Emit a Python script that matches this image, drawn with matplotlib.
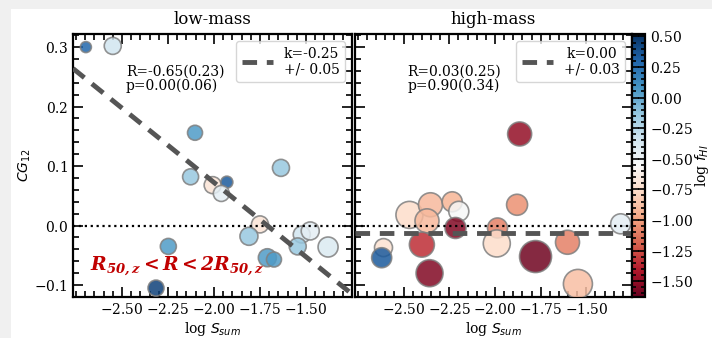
import numpy as np
import matplotlib
matplotlib.use('Agg')
import matplotlib.pyplot as plt
from matplotlib.ticker import AutoMinorLocator
from matplotlib.patches import Rectangle
from matplotlib.cm import ScalarMappable
from matplotlib.colors import Normalize

plt.rcParams['font.family'] = 'DejaVu Serif'
plt.rcParams['axes.formatter.use_mathtext'] = True
plt.rcParams['mathtext.fontset'] = 'dejavusans'

# low-mass sample
x_low = [-2.696, -2.55, -2.103, -1.636, -2.127, -2.007, -1.93, -1.96, -1.75,
         -1.81, -1.523, -1.477, -1.545, -1.38, -1.71, -1.674, -2.248, -2.315]
y_low = [0.300, 0.302, 0.156, 0.097, 0.082, 0.068, 0.073, 0.054, 0.002,
         -0.018, -0.015, -0.009, -0.035, -0.036, -0.054, -0.057, -0.035, -0.105]
c_low = [0.30, -0.35, 0.05, -0.15, -0.15, -0.70, 0.35, -0.45, -0.70,
         -0.15, -0.35, -0.45, -0.15, -0.40, 0.05, 0.05, 0.05, 0.45]
r_low = [5.5, 8.5, 7.5, 8.5, 8, 8.5, 6, 8, 8.5, 9, 8.5, 9, 8.5, 10, 9, 7.5, 8, 8]

# high-mass sample
x_high = [-2.468, -2.353, -2.372, -2.234, -2.198, -2.216, -2.61, -2.62, -2.40,
          -2.358, -1.986, -1.99, -1.879, -1.778, -1.603, -1.546, -1.312, -1.865]
y_high = [0.018, 0.035, 0.008, 0.040, 0.024, -0.004, -0.037, -0.054, -0.032,
          -0.080, -0.004, -0.030, 0.035, -0.052, -0.028, -0.098, 0.003, 0.154]
c_high = [-0.75, -0.90, -0.90, -0.92, -0.55, -1.55, -0.72, 0.35, -1.35,
          -1.55, -1.10, -0.75, -1.05, -1.60, -1.10, -0.88, -0.45, -1.50]
r_high = [13.5, 12, 12, 10, 10, 10.5, 9, 10, 12.5, 13.5, 10, 13.5, 10.5, 16, 12, 14.5, 10, 12]

# fits: slope, error, intercept; stats text
fit_low = (-0.25, 0.05, -0.4275)
fit_high = (0.00, 0.03, -0.012)
stats_low = 'R=-0.65(0.23)\np=0.00(0.06)'
stats_high = 'R=0.03(0.25)\np=0.90(0.34)'

vmin, vmax = -1.63, 0.52
xlim = (-2.766, -1.25)
ylim = (-0.12, 0.322)

fig = plt.figure(figsize=(7.12, 3.38), dpi=100)
fig.patch.set_facecolor('#f0f0f0')
fig.patches.append(Rectangle((11/712, 0), 1, 1 - 9/338, transform=fig.transFigure,
                             facecolor='white', edgecolor='none', zorder=-10))

ax1 = fig.add_axes([73/712, 41/338, 279/712, 263/338])
ax2 = fig.add_axes([355/712, 41/338, 277/712, 263/338])
cax = fig.add_axes([632/712, 41/338, 13/712, 263/338])


def r2s(r):
    d = 2 * np.array(r) * 72 / 100.
    return d ** 2


def panel(ax, x, y, c, r, fit, stats, title):
    sc = ax.scatter(x, y, c=c, s=r2s(r), cmap='RdBu', vmin=vmin, vmax=vmax,
                    alpha=0.85, edgecolors='gray', linewidths=1.2, zorder=3)
    ax.axhline(0, color='k', ls=':', lw=1.6, zorder=4)
    xx = np.array(xlim)
    k, err, b = fit
    ax.plot(xx, k * xx + b, ls='--', color='#555555', lw=3.5, dashes=(3, 2), zorder=5,
            label='k=%.2f\n+/- %.2f' % (k, err))
    leg = ax.legend(loc='upper right', fontsize=10, handlelength=2.2, borderpad=0.4)
    for t in leg.get_texts():
        t.set_multialignment('center')
    ax.text(0.19, 0.885, stats, transform=ax.transAxes, fontsize=10, va='top', linespacing=1.0)
    ax.set_xlim(xlim)
    ax.set_ylim(ylim)
    ax.set_xticks([-2.5, -2.25, -2.0, -1.75, -1.5])
    ax.set_yticks([-0.1, 0.0, 0.1, 0.2, 0.3])
    ax.xaxis.set_minor_locator(AutoMinorLocator(5))
    ax.yaxis.set_minor_locator(AutoMinorLocator(5))
    ax.tick_params(which='both', direction='in', top=True, right=True, labelsize=10, width=1.2)
    ax.tick_params(which='major', length=7)
    ax.tick_params(which='minor', length=4)
    for s in ax.spines.values():
        s.set_linewidth(1.6)
    ax.set_title(title, fontsize=12, pad=7)
    ax.set_xlabel(r'log $S_{sum}$', fontsize=10, labelpad=2)
    return sc


panel(ax1, x_low, y_low, c_low, r_low, fit_low, stats_low, 'low-mass')
panel(ax2, x_high, y_high, c_high, r_high, fit_high, stats_high, 'high-mass')
ax2.set_yticklabels([])
ax1.set_ylabel(r'$CG_{12}$', fontsize=10, labelpad=1)

ax1.text(-2.675, -0.067, r'$\mathbfit{R_{50,z} < R < 2R_{50,z}}$', color='#c00000',
         fontsize=13.5, va='center', zorder=6, math_fontfamily='dejavuserif')

sm = ScalarMappable(norm=Normalize(vmin, vmax), cmap='RdBu')
cb = fig.colorbar(sm, cax=cax)
cb.set_ticks([0.5, 0.25, 0.0, -0.25, -0.5, -0.75, -1.0, -1.25, -1.5])
cb.ax.yaxis.set_minor_locator(AutoMinorLocator(5))
cb.ax.tick_params(which='both', direction='in', left=True, right=True, labelsize=10, width=1.2)
cb.ax.tick_params(which='major', length=5)
cb.ax.tick_params(which='minor', length=3)
cb.outline.set_linewidth(1.6)
cb.set_label(r'log $f_{HI}$', fontsize=10, labelpad=0)

fig.savefig('out.png', dpi=100, facecolor=fig.get_facecolor())
